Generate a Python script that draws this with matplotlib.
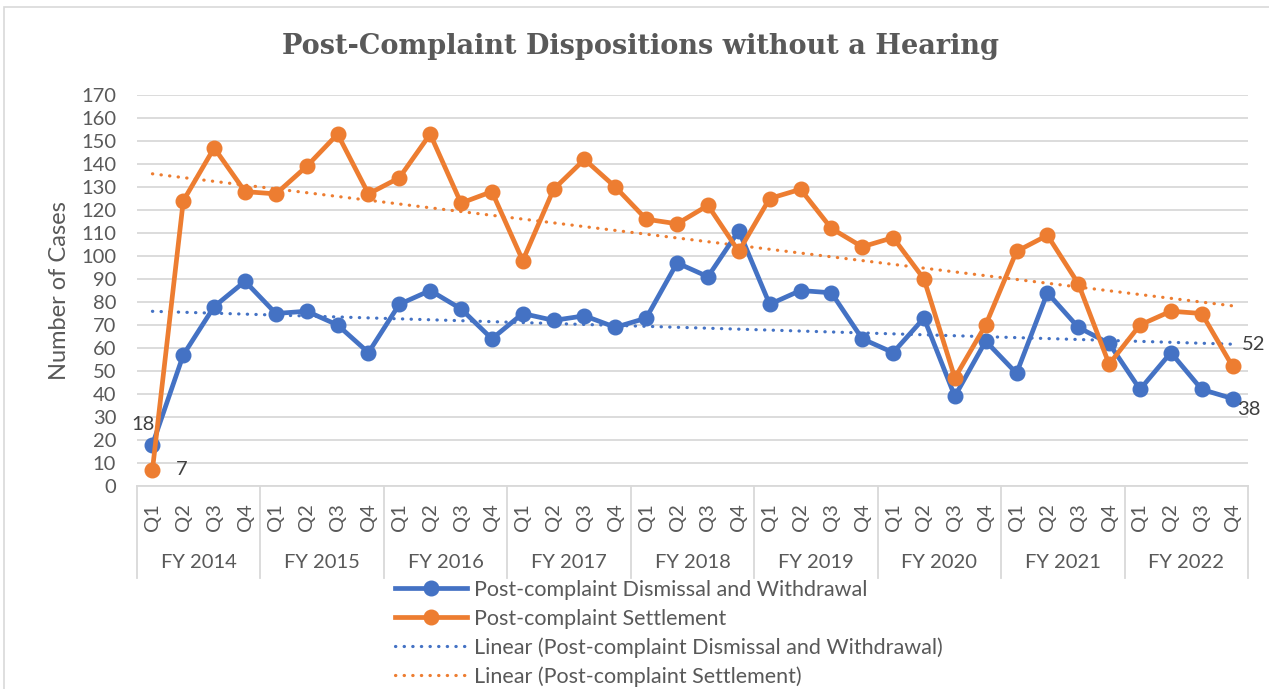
import numpy as np
import matplotlib.pyplot as plt
from matplotlib.lines import Line2D
from matplotlib.patches import Rectangle
from matplotlib.transforms import blended_transform_factory

plt.rcParams['font.family'] = ['Lato', 'DejaVu Sans']

years = ["FY 2014", "FY 2015", "FY 2016", "FY 2017", "FY 2018",
         "FY 2019", "FY 2020", "FY 2021", "FY 2022"]
quarters = ["Q1", "Q2", "Q3", "Q4"]

dismissal = [18, 57, 78, 89, 75, 76, 70, 58, 79, 85, 77, 64,
             75, 72, 74, 69, 73, 97, 91, 111, 79, 85, 84, 64,
             58, 73, 39, 63, 49, 84, 69, 62, 42, 58, 42, 38]
settlement = [7, 124, 147, 128, 127, 139, 153, 127, 134, 153, 123, 128,
              98, 129, 142, 130, 116, 114, 122, 102, 125, 129, 112, 104,
              108, 90, 47, 70, 102, 109, 88, 53, 70, 76, 75, 52]

BLUE = "#4472C4"
ORANGE = "#ED7D31"
GRID = "#D9D9D9"
TEXT = "#595959"

W, H = 1269, 689
fig = plt.figure(figsize=(W / 100, H / 100), dpi=100)

# chart area border (only top/left show in the crop)
fig.patches.append(Rectangle((4 / W, -0.05), 1.05, 1.05 - 7 / H, transform=fig.transFigure,
                             fill=False, edgecolor=GRID, linewidth=1.2))

ax = fig.add_axes([137 / W, (H - 486) / H, (1248 - 137) / W, (486 - 95) / H])

n = len(dismissal)
x = np.arange(n) + 0.5

# linear trendlines
idx = np.arange(1, n + 1)
d_fit = np.polyval(np.polyfit(idx, dismissal, 1), idx)
s_fit = np.polyval(np.polyfit(idx, settlement, 1), idx)

dots = (0, (0.1, 2.6))
ax.plot(x, d_fit, color=BLUE, linewidth=2.3, linestyle=dots, dash_capstyle="round", zorder=2)
ax.plot(x, s_fit, color=ORANGE, linewidth=2.3, linestyle=dots, dash_capstyle="round", zorder=2)

ax.plot(x, dismissal, color=BLUE, linewidth=3.4, marker="o", markersize=10.5, zorder=3)
ax.plot(x, settlement, color=ORANGE, linewidth=3.4, marker="o", markersize=10.5, zorder=4)

ax.set_xlim(0, n)
ax.set_ylim(0, 170)
ax.set_yticks(range(0, 171, 10))
ax.yaxis.grid(True, color=GRID, linewidth=1.3)
ax.set_axisbelow(True)
ax.tick_params(axis="y", length=0, labelsize=14.5, labelcolor=TEXT, pad=15)
ax.set_xticks([])
for s in ["top", "right", "left"]:
    ax.spines[s].set_visible(False)
ax.spines["bottom"].set_color(GRID)
ax.spines["bottom"].set_linewidth(1.3)

ax.set_ylabel("Number of Cases", fontsize=17, color=TEXT, labelpad=8)

# data labels at the ends
fs = 14.5
ax.annotate(str(dismissal[0]), (x[0], dismissal[0]), xytext=(-7, 8), textcoords="offset points",
            ha="center", va="bottom", fontsize=fs, color="#404040")
ax.annotate(str(settlement[0]), (x[0], settlement[0]), xytext=(21, 0), textcoords="offset points",
            ha="center", va="center", fontsize=fs, color="#404040")
ax.annotate(str(settlement[-1]), (x[-1], settlement[-1]), xytext=(6.5, 16), textcoords="offset points",
            ha="left", va="center", fontsize=fs, color="#404040")
ax.annotate(str(dismissal[-1]), (x[-1], dismissal[-1]), xytext=(3, -8), textcoords="offset points",
            ha="left", va="center", fontsize=fs, color="#404040")

# category axis: quarters and fiscal years
axh = 486 - 95
trans = blended_transform_factory(ax.transData, ax.transAxes)
for i in range(n):
    ax.text(x[i], -31 / axh, quarters[i % 4], rotation=90, ha="center", va="center",
            fontsize=fs, color=TEXT, transform=trans)
for j, yr in enumerate(years):
    ax.text(4 * j + 2, -77 / axh, yr, ha="center", va="center",
            fontsize=fs, color=TEXT, transform=trans)
for j in range(len(years) + 1):
    ax.plot([4 * j, 4 * j], [0, -92 / axh], color=GRID, linewidth=1.3,
            transform=trans, clip_on=False)

fig.text(641 / W, 1 - 46 / H, "Post-Complaint Dispositions without a Hearing",
         ha="center", va="center", fontsize=19.5, fontweight="bold",
         family="DejaVu Serif", color=TEXT)

handles = [
    Line2D([], [], color=BLUE, linewidth=3.4, marker="o", markersize=10.5),
    Line2D([], [], color=ORANGE, linewidth=3.4, marker="o", markersize=10.5),
    Line2D([], [], color=BLUE, linewidth=2.3, linestyle=dots, dash_capstyle="round"),
    Line2D([], [], color=ORANGE, linewidth=2.3, linestyle=dots, dash_capstyle="round"),
]
labels = ["Post-complaint Dismissal and Withdrawal", "Post-complaint Settlement",
          "Linear (Post-complaint Dismissal and Withdrawal)", "Linear (Post-complaint Settlement)"]
fig.legend(handles, labels, loc="upper left", bbox_to_anchor=(395 / W, 1 - 580 / H),
           frameon=False, fontsize=15.5, labelcolor=TEXT, handlelength=3.35,
           handletextpad=0.3, labelspacing=0.4, borderaxespad=0, borderpad=0)

fig.savefig("out.png", dpi=100)
